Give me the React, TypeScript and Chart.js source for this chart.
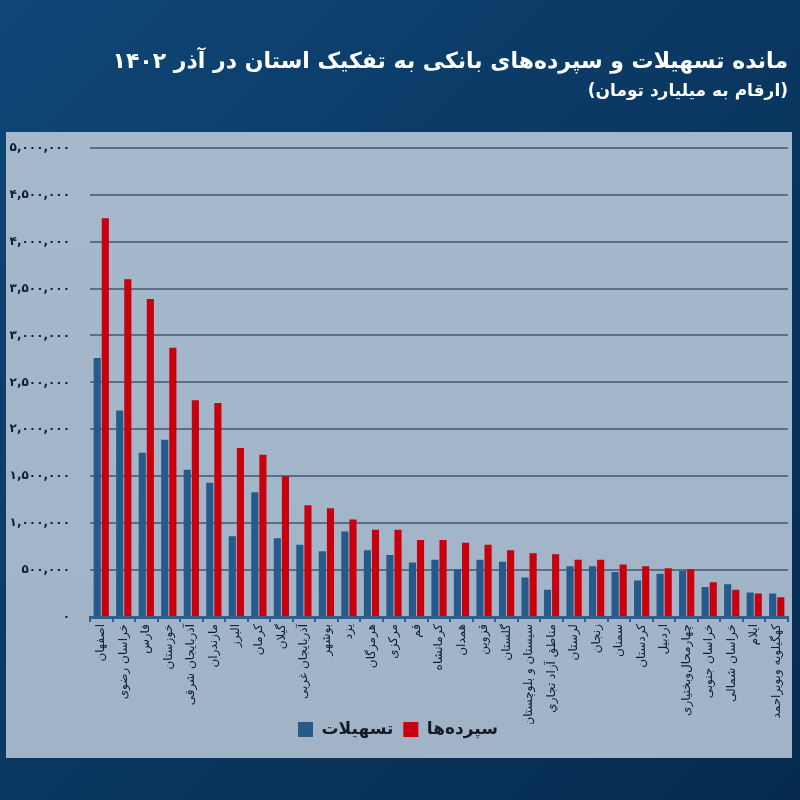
import React, { useEffect, useRef } from "react";
import { Chart, registerables } from "chart.js";

Chart.register(...registerables);

const categories = [
  "اصفهان", "خراسان رضوی", "فارس", "خوزستان", "آذربایجان شرقی", "مازندران",
  "البرز", "کرمان", "گیلان", "آذربایجان غربی", "بوشهر", "یزد", "هرمزگان",
  "مرکزی", "قم", "کرمانشاه", "همدان", "قزوین", "گلستان", "سیستان و بلوچستان",
  "مناطق آزاد تجاري", "لرستان", "زنجان", "سمنان", "کردستان", "اردبیل",
  "چهارمحال‌وبختیاری", "خراسان جنوبی", "خراسان شمالی", "ایلام", "کهگیلویه وبویراحمد",
];

const loans = [
  2760000, 2200000, 1750000, 1890000, 1570000, 1430000, 860000, 1330000, 840000,
  770000, 700000, 910000, 710000, 660000, 580000, 610000, 510000, 610000, 590000,
  420000, 290000, 540000, 540000, 480000, 390000, 460000, 490000, 320000, 350000,
  260000, 250000,
];

const deposits = [
  4250000, 3600000, 3390000, 2870000, 2310000, 2280000, 1800000, 1730000, 1500000,
  1190000, 1160000, 1040000, 930000, 930000, 820000, 820000, 790000, 770000, 710000,
  680000, 670000, 610000, 610000, 560000, 540000, 520000, 510000, 370000, 290000,
  250000, 210000,
];

const seriesNames = ["تسهیلات", "سپرده‌ها"];
const titleText = "مانده تسهیلات و سپرده‌های بانکی به تفکیک استان در آذر ۱۴۰۲";
const subtitleText = "(ارقام به میلیارد تومان)";
const yMax = 5000000;
const yStep = 500000;

const faDigits = "۰۱۲۳۴۵۶۷۸۹";
const toFa = (n: number) =>
  Math.round(n).toLocaleString("en-US").replace(/\d/g, (d) => faDigits[+d]);

const bgPlugin = {
  id: "bgPanel",
  beforeDraw(chart: any) {
    const { ctx, width, height } = chart;
    ctx.save();
    const g = ctx.createLinearGradient(0, 0, width, height);
    g.addColorStop(0, "#0f4676");
    g.addColorStop(1, "#052a4e");
    ctx.fillStyle = g;
    ctx.fillRect(0, 0, width, height);
    const pg = ctx.createLinearGradient(0, 132, 0, 758);
    pg.addColorStop(0, "#a6b9cc");
    pg.addColorStop(1, "#a1b4c7");
    ctx.fillStyle = pg;
    ctx.fillRect(6, 132, 786, 626);
    ctx.restore();
  },
};

// lift the legend up into the free space beside the long rotated labels
const LEGEND_LIFT = 13;
const legendShift = {
  id: "legendShift",
  afterLayout(chart: any) {
    const lg = chart.legend;
    if (!lg) return;
    lg.top -= LEGEND_LIFT;
    lg.bottom -= LEGEND_LIFT;
    if (lg.legendHitBoxes) lg.legendHitBoxes.forEach((b: any) => (b.top -= LEGEND_LIFT));
  },
};

export default function App() {
  const ref = useRef<HTMLCanvasElement>(null);

  useEffect(() => {
    if (!ref.current) return;
    const chart = new Chart(ref.current, {
      type: "bar",
      data: {
        labels: categories,
        datasets: [
          {
            label: seriesNames[0],
            data: loans,
            backgroundColor: "#255a8a",
            categoryPercentage: 0.72,
            barPercentage: 0.88,
          },
          {
            label: seriesNames[1],
            data: deposits,
            backgroundColor: "#c9000b",
            categoryPercentage: 0.72,
            barPercentage: 0.88,
          },
        ],
      },
      options: {
        animation: false,
        responsive: false,
        maintainAspectRatio: false,
        layout: { padding: { top: 49, left: 8, right: 12, bottom: 39 } },
        plugins: {
          title: {
            display: true,
            text: titleText,
            align: "end",
            color: "#ffffff",
            font: { family: "DejaVu Sans", size: 22, weight: "bold" },
            padding: { top: 0, bottom: 6 },
          },
          subtitle: {
            display: true,
            text: subtitleText,
            align: "end",
            color: "#ffffff",
            font: { family: "DejaVu Sans", size: 17, weight: "bold" },
            padding: { top: 0, bottom: 46 },
          },
          legend: {
            position: "bottom",
            labels: {
              boxWidth: 15,
              boxHeight: 15,
              padding: 10,
              color: "#141c2a",
              font: { family: "DejaVu Sans", size: 17, weight: "bold" },
            },
          },
          tooltip: { enabled: false },
        },
        scales: {
          x: {
            afterFit: (axis: any) => {
              axis.height = 107;
            },
            grid: {
              drawOnChartArea: false,
              drawTicks: true,
              tickLength: 5,
              color: "#2f5f90",
              lineWidth: 2,
              offset: true,
            },
            border: { color: "#2f5f90", width: 3 },
            ticks: {
              minRotation: 90,
              maxRotation: 90,
              autoSkip: false,
              padding: 2,
              color: "#0c1e3a",
              font: { family: "DejaVu Sans", size: 12 },
            },
          },
          y: {
            min: 0,
            max: yMax,
            afterFit: (axis: any) => {
              axis.width = 82;
            },
            grid: { color: "#5b6e83", lineWidth: 2, drawTicks: false },
            border: { display: false },
            ticks: {
              stepSize: yStep,
              padding: 20,
              color: "#0c1e3a",
              font: { family: "DejaVu Sans", size: 12, weight: "bold" },
              callback: (v: any) => toFa(Number(v)),
            },
          },
        },
      },
      plugins: [bgPlugin, legendShift],
    });
    return () => chart.destroy();
  }, []);

  return (
    <div style={{ position: "fixed", left: 0, top: 0, width: 800, height: 800 }}>
      <canvas ref={ref} width={800} height={800} dir="rtl" style={{ display: "block" }} />
    </div>
  );
}
